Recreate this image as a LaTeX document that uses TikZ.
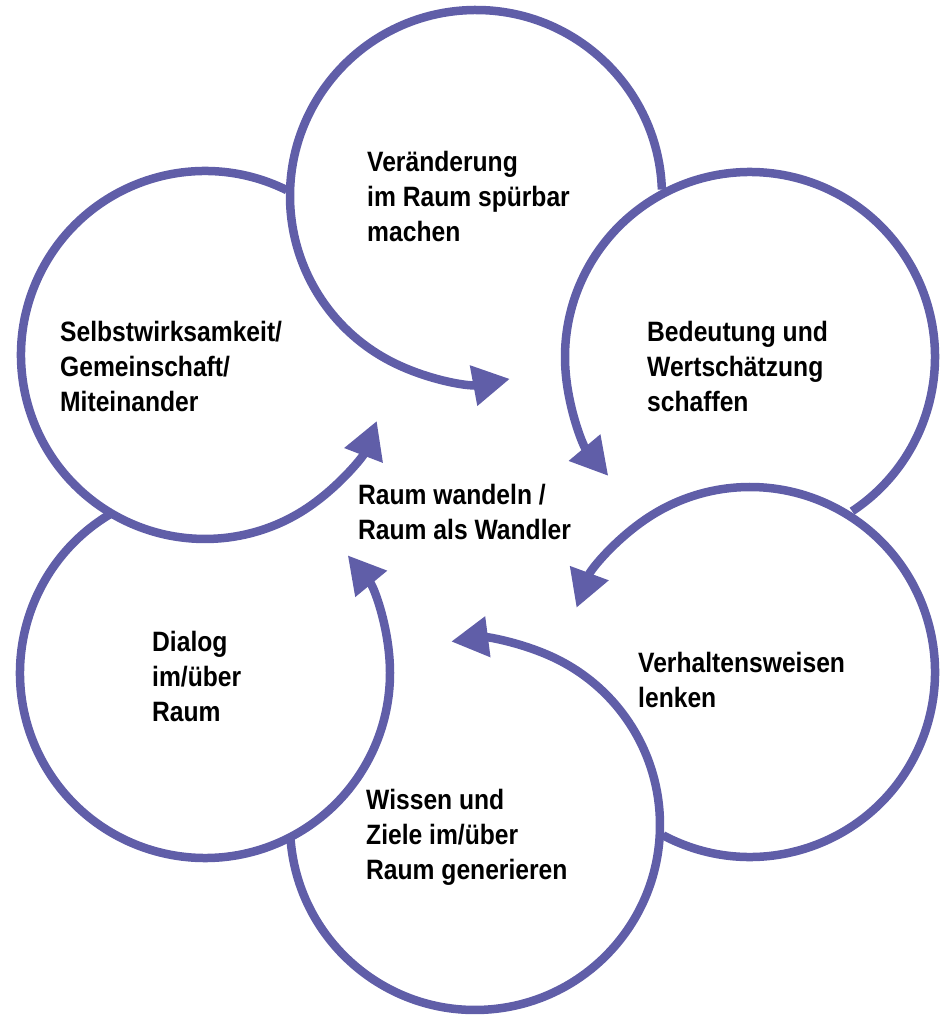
\documentclass[tikz,border=0pt]{standalone}
\usepackage{fontspec}
\usetikzlibrary{arrows.meta}
\newfontfamily\labelfamily{Liberation Sans}[FakeStretch=0.88]
\definecolor{ringblue}{RGB}{96,94,168}
\newcommand{\ringtext}[1]{\begin{tabular}[t]{@{}l@{}}#1\end{tabular}}
\tikzset{
  ring/.style={draw=ringblue, line width=8.5pt,
    -{Triangle[length=37pt 0 0, width=39pt 0 0]}},
  label/.style={anchor=base west, inner sep=0pt, text=black,
    font=\labelfamily\bfseries\fontsize{28}{35}\selectfont}
}
\begin{document}
\begin{tikzpicture}[x=1pt,y=1pt]
  \useasboundingbox (0,0) rectangle (942,1015);
  % ring centres
  \coordinate (c1) at (476,819);
  \coordinate (c2) at (750,658);
  \coordinate (c3) at (750,343);
  \coordinate (c4) at (475,190);
  \coordinate (c5) at (205,342);
  \coordinate (c6) at (205,660);
  % open rings, each ending in an arrow towards the middle
  \draw[ring] (c1) ++(2:186)     arc[start angle=2,     end angle=280.5, radius=186];
  \draw[ring] (c2) ++(-56.5:185) arc[start angle=-56.5, end angle=220,   radius=185];
  \draw[ring] (c3) ++(242:185)   arc[start angle=242,   end angle=519.7, radius=185];
  \draw[ring] (c4) ++(183.7:185) arc[start angle=183.7, end angle=457.4, radius=185];
  \draw[ring] (c5) ++(121:185)   arc[start angle=121,   end angle=399.5, radius=185];
  \draw[ring] (c6) ++(63.6:184)  arc[start angle=63.6,  end angle=339,   radius=184];
  % texts
  \node[label] (t1) at (367,843) {\ringtext{Veränderung\\im Raum spürbar\\machen}};
  \node[label] (t2) at (647,673) {\ringtext{Bedeutung und\\Wertschätzung\\schaffen}};
  \node[label] (t3) at (638,342) {\ringtext{Verhaltensweisen\\lenken}};
  \node[label] (t4) at (366,205) {\ringtext{Wissen und\\Ziele im/über\\Raum generieren}};
  \node[label] (t5) at (152,363) {\ringtext{Dialog\\im/über\\Raum}};
  \node[label] (t6) at (60,673)  {\ringtext{Selbstwirksamkeit/\\Gemeinschaft/\\Miteinander}};
  \node[label] (mid) at (358,510) {\ringtext{Raum wandeln /\\Raum als Wandler}};
\end{tikzpicture}
\end{document}
